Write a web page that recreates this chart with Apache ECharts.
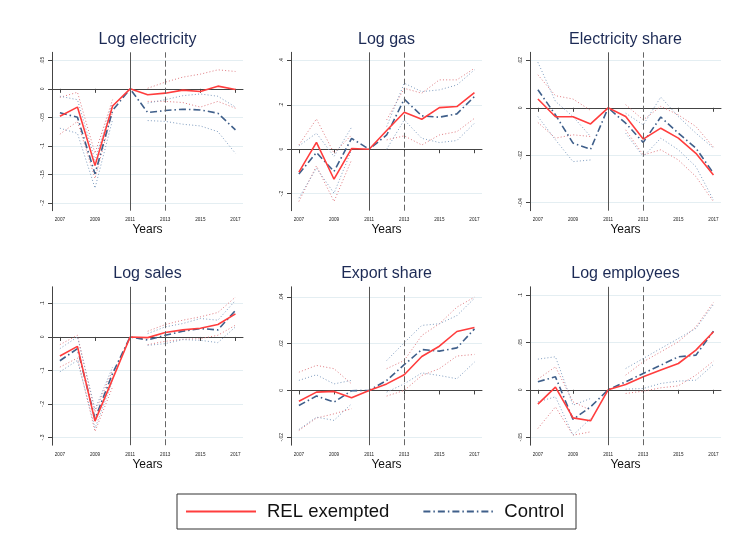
<!DOCTYPE html>
<html><head><meta charset="utf-8">
<script src="https://cdn.jsdelivr.net/npm/echarts@6/dist/echarts.min.js"></script>
<style>html,body{margin:0;padding:0;background:#fff}#c{width:739px;height:544px}</style>
</head><body><div id="c"></div>
<script>
// ---------- DATA ----------
const years = [2007, 2008, 2009, 2010, 2011, 2012, 2013, 2014, 2015, 2016, 2017];
const xTickLabels = [2007, 2009, 2011, 2013, 2015, 2017];
const panelTitles = ['Log electricity', 'Log gas', 'Electricity share', 'Log sales', 'Export share', 'Log employees'];
const seriesNames = ['REL exempted', 'Control'];

// Log electricity
const elecTicks = [-0.2, -0.15, -0.1, -0.05, 0, 0.05];
const elecRel    = [-0.048, -0.032, -0.1345, -0.030, 0, -0.0105, -0.0076, -0.0023, -0.0047, 0.0047, -0.0012];
const elecCtrl   = [-0.042, -0.0497, -0.149, -0.038, 0, -0.0415, -0.038, -0.0357, -0.037, -0.0427, -0.072];
const elecRelHi  = [-0.015, -0.006, -0.113, -0.019, null, 0.001, 0.0117, 0.0205, 0.0257, 0.0333, 0.0304];
const elecRelLo  = [-0.0795, -0.057, -0.157, -0.040, null, -0.022, -0.022, -0.024, -0.032, -0.022, -0.034];
const elecCtrlHi = [-0.013, -0.019, -0.125, -0.025, null, -0.025, -0.019, -0.012, -0.009, -0.013, -0.032];
const elecCtrlLo = [-0.069, -0.078, -0.174, -0.054, null, -0.0556, -0.057, -0.062, -0.065, -0.075, -0.113];

// Log gas
const gasTicks = [-0.2, 0, 0.2, 0.4];
const gasRel    = [-0.103, 0.031, -0.135, 0.003, 0, 0.084, 0.166, 0.135, 0.187, 0.192, 0.255];
const gasCtrl   = [-0.111, -0.015, -0.100, 0.049, 0, 0.064, 0.225, 0.150, 0.144, 0.159, 0.237];
const gasRelHi  = [0.019, 0.136, -0.018, 0.064, null, 0.132, 0.274, 0.252, 0.312, 0.312, 0.364];
const gasRelLo  = [-0.235, -0.075, -0.235, -0.048, null, 0.042, 0.060, 0.019, 0.064, 0.079, 0.139];
const gasCtrlHi = [0.015, 0.072, -0.033, 0.099, null, 0.102, 0.297, 0.259, 0.267, 0.289, 0.357];
const gasCtrlLo = [-0.220, -0.085, -0.198, -0.003, null, 0.000, 0.132, 0.049, 0.030, 0.039, 0.117];

// Electricity share
const shareTicks = [-0.04, -0.02, 0, 0.02];
const shareRel    = [0.0037, -0.0038, -0.0038, -0.0068, 0, -0.0037, -0.0132, -0.0086, -0.0128, -0.0192, -0.0283];
const shareCtrl   = [0.0076, -0.0030, -0.0149, -0.0175, 0, -0.0065, -0.0146, -0.0039, -0.0107, -0.0170, -0.0276];
const shareRelHi  = [0.0139, 0.0051, 0.0037, -0.0011, null, 0.0013, -0.0051, 0.0006, -0.0030, -0.0079, -0.0166];
const shareRelLo  = [-0.0062, -0.0128, -0.0114, -0.0121, null, -0.0093, -0.0199, -0.0177, -0.0220, -0.0290, -0.0396];
const shareCtrlHi = [0.0192, 0.0027, -0.0037, -0.0121, null, -0.0023, -0.0072, 0.0045, -0.0037, -0.0107, -0.0170];
const shareCtrlLo = [-0.0037, -0.0135, -0.0227, -0.0220, null, -0.0107, -0.0206, -0.0128, -0.0177, -0.0248, -0.0389];

// Log sales
const salesTicks = [-0.3, -0.2, -0.1, 0, 0.1];
const salesRel    = [-0.057, -0.028, -0.251, -0.126, 0, -0.002, 0.013, 0.021, 0.026, 0.037, 0.069];
const salesCtrl   = [-0.071, -0.035, -0.244, -0.109, 0, -0.009, 0.005, 0.017, 0.025, 0.021, 0.079];
const salesRelHi  = [-0.023, 0.005, -0.224, -0.100, null, 0.017, 0.037, 0.050, 0.060, 0.073, 0.119];
const salesRelLo  = [-0.090, -0.063, -0.282, -0.149, null, -0.023, -0.013, -0.007, -0.005, 0.005, 0.035];
const salesCtrlHi = [-0.035, 0.000, -0.216, -0.090, null, 0.010, 0.030, 0.040, 0.055, 0.050, 0.109];
const salesCtrlLo = [-0.104, -0.070, -0.272, -0.132, null, -0.025, -0.020, -0.008, -0.010, -0.017, 0.030];

// Export share
const exportTicks = [-0.02, 0, 0.02, 0.04];
const exportRel    = [-0.0046, -0.0007, -0.0004, -0.0031, 0, 0.0028, 0.0067, 0.0145, 0.0189, 0.0252, 0.0269];
const exportCtrl   = [-0.0064, -0.0024, -0.0050, -0.0001, 0, 0.0043, 0.0110, 0.0175, 0.0168, 0.0182, 0.0263];
const exportRelHi  = [0.0078, 0.0107, 0.0093, 0.0028, null, 0.0093, 0.0128, 0.0235, 0.0285, 0.0356, 0.0399];
const exportRelLo  = [-0.0171, -0.0118, -0.0100, -0.0078, null, -0.0024, 0.0000, 0.0064, 0.0093, 0.0147, 0.0154];
const exportCtrlHi = [0.0043, 0.0067, 0.0028, 0.0043, null, 0.0128, 0.0204, 0.0278, 0.0285, 0.0320, 0.0394];
const exportCtrlLo = [-0.0167, -0.0114, -0.0128, -0.0057, null, -0.0007, 0.0028, 0.0075, 0.0064, 0.0050, 0.0121];

// Log employees
const emplTicks = [-0.05, 0, 0.05, 0.1];
const emplRel    = [-0.0151, 0.0028, -0.0296, -0.0327, 0, 0.0056, 0.0137, 0.0208, 0.0278, 0.0419, 0.0613];
const emplCtrl   = [0.0085, 0.0137, -0.0313, -0.0180, 0, 0.0085, 0.0173, 0.0260, 0.0349, 0.0366, 0.0620];
const emplRelHi  = [0.0113, 0.0243, -0.0127, -0.0215, null, 0.0155, 0.0296, 0.0401, 0.0507, 0.0665, 0.0923];
const emplRelLo  = [-0.0408, -0.0180, -0.0479, -0.0444, null, -0.0039, -0.0014, 0.0021, 0.0042, 0.0155, 0.0303];
const emplCtrlHi = [0.0324, 0.0349, -0.0162, -0.0092, null, 0.0225, 0.0331, 0.0437, 0.0542, 0.0648, 0.0901];
const emplCtrlLo = [-0.0127, -0.0074, -0.0479, -0.0303, null, 0.0007, 0.0014, 0.0067, 0.0092, 0.0102, 0.0268];

const referenceYear = 2011;
const announceYear = 2013;

// ---------- LAYOUT / STYLE ----------
const panels = [
  {ticks: elecTicks,   rel: elecRel,   ctrl: elecCtrl,   relHi: elecRelHi,   relLo: elecRelLo,   ctrlHi: elecCtrlHi,   ctrlLo: elecCtrlLo,   ymin: -0.2135, ymax: 0.064},
  {ticks: gasTicks,    rel: gasRel,    ctrl: gasCtrl,    relHi: gasRelHi,    relLo: gasRelLo,    ctrlHi: gasCtrlHi,    ctrlLo: gasCtrlLo,    ymin: -0.2766, ymax: 0.436},
  {ticks: shareTicks,  rel: shareRel,  ctrl: shareCtrl,  relHi: shareRelHi,  relLo: shareRelLo,  ctrlHi: shareCtrlHi,  ctrlLo: shareCtrlLo,  ymin: -0.0434, ymax: 0.0234},
  {ticks: salesTicks,  rel: salesRel,  ctrl: salesCtrl,  relHi: salesRelHi,  relLo: salesRelLo,  ctrlHi: salesCtrlHi,  ctrlLo: salesCtrlLo,  ymin: -0.323, ymax: 0.1496},
  {ticks: exportTicks, rel: exportRel, ctrl: exportCtrl, relHi: exportRelHi, relLo: exportRelLo, ctrlHi: exportCtrlHi, ctrlLo: exportCtrlLo, ymin: -0.0234, ymax: 0.0443},
  {ticks: emplTicks,   rel: emplRel,   ctrl: emplCtrl,   relHi: emplRelHi,   relLo: emplRelLo,   ctrlHi: emplCtrlHi,   ctrlLo: emplCtrlLo,   ymin: -0.0585, ymax: 0.1088}
];
const gridLefts = [52, 291, 530];
const gridTops = [52.3, 286.8];
const gridW = 191, gridH = 158.4;
const xMin = 2006.55, xMax = 2017.43;

const RED = '#ff3d3d', BLUE = '#3f5f8a', RED_CI = '#e07a80', BLUE_CI = '#7f9dc0';
const FONT = 'Liberation Sans, Arial, Helvetica, sans-serif';

function stataFmt(v) {
  const s = String(Math.round(v * 10000) / 10000);
  return s.replace(/^(-?)0\./, '$1.');
}
function pairs(arr) { return years.map((y, j) => [y, arr[j] == null ? '-' : arr[j]]); }

const grids = [], xAxes = [], yAxes = [], titles = [], series = [];
panels.forEach((p, i) => {
  const col = i % 3, row = Math.floor(i / 3);
  grids.push({left: gridLefts[col], top: gridTops[row], width: gridW, height: gridH, containLabel: false});
  titles.push({
    text: panelTitles[i], left: gridLefts[col] + gridW / 2, top: gridTops[row] - 21, textAlign: 'center', padding: 0,
    textStyle: {fontFamily: FONT, fontSize: 16, fontWeight: 'normal', color: '#1c2a55'}
  });
  xAxes.push({
    type: 'value', gridIndex: i, min: xMin, max: xMax,
    name: 'Years', nameLocation: 'middle', nameGap: 13,
    nameTextStyle: {fontFamily: FONT, fontSize: 12, color: '#111', verticalAlign: 'top'},
    axisLine: {show: true, lineStyle: {color: '#444', width: 1}},
    axisTick: {show: true, length: 4, customValues: xTickLabels, lineStyle: {color: '#444'}},
    axisLabel: {customValues: xTickLabels, fontFamily: FONT, fontSize: 4.6, color: '#222', margin: 7, formatter: v => String(v)},
    splitLine: {show: false}
  });
  yAxes.push({
    type: 'value', gridIndex: i, min: p.ymin, max: p.ymax,
    axisLine: {show: true, lineStyle: {color: '#444', width: 1}},
    axisTick: {show: true, length: 4, customValues: p.ticks, lineStyle: {color: '#444'}},
    axisLabel: {customValues: p.ticks, rotate: 90, fontFamily: FONT, fontSize: 5, color: '#222', margin: 7, formatter: stataFmt},
    splitLine: {show: true, lineStyle: {color: '#e4eef2', width: 1}}
  });
  const ci = (arr, color, nm) => ({
    type: 'line', name: nm, xAxisIndex: i, yAxisIndex: i, data: pairs(arr), symbol: 'none', silent: true,
    connectNulls: false, lineStyle: {color: color, width: 1, type: [1, 2.2]}, z: 2
  });
  series.push(ci(p.relHi, RED_CI, 'relHi' + i));
  series.push(ci(p.relLo, RED_CI, 'relLo' + i));
  series.push(ci(p.ctrlHi, BLUE_CI, 'ctrlHi' + i));
  series.push(ci(p.ctrlLo, BLUE_CI, 'ctrlLo' + i));
  series.push({
    type: 'line', name: 'ref' + i, xAxisIndex: i, yAxisIndex: i, data: [], silent: true, z: 1,
    markLine: {
      symbol: ['none', 'none'], silent: true, label: {show: false}, animation: false,
      data: [
        {xAxis: referenceYear, lineStyle: {color: '#555', width: 1, type: 'solid'}},
        {xAxis: announceYear, lineStyle: {color: '#666', width: 1, type: [6, 3]}}
      ]
    }
  });
  series.push({
    type: 'line', name: seriesNames[1], xAxisIndex: i, yAxisIndex: i, data: pairs(p.ctrl), symbol: 'none',
    lineStyle: {color: BLUE, width: 1.6, type: [7, 3, 1.5, 3]}, itemStyle: {color: BLUE}, z: 3
  });
  series.push({
    type: 'line', name: seriesNames[0], xAxisIndex: i, yAxisIndex: i, data: pairs(p.rel), symbol: 'none',
    lineStyle: {color: RED, width: 1.6, type: 'solid'}, itemStyle: {color: RED}, z: 4
  });
});

const chart = echarts.init(document.getElementById('c'), null, {renderer: 'canvas'});
chart.setOption({
  animation: false,
  backgroundColor: '#fff',
  title: titles,
  grid: grids,
  xAxis: xAxes,
  yAxis: yAxes,
  legend: {
    data: seriesNames, left: 177, top: 494, orient: 'horizontal',
    padding: [8, 12, 8, 8], itemWidth: 70, itemHeight: 17, itemGap: 33,
    borderColor: '#333', borderWidth: 1, borderRadius: 0,
    itemStyle: {opacity: 0},
    textStyle: {fontFamily: FONT, fontSize: 18.5, color: '#111', padding: [0, 0, 0, 6]}
  },
  series: series
});
</script></body></html>
